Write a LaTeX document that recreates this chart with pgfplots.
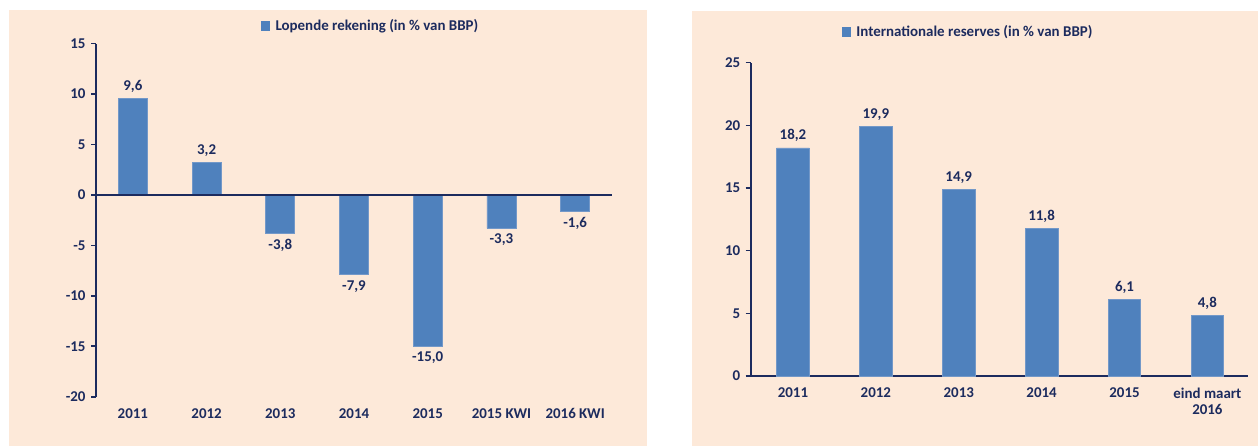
\documentclass[border=0pt]{standalone}
\usepackage{fontspec}
\setmainfont{Carlito}
\usepackage{pgfplots}
\pgfplotsset{compat=1.18}
\definecolor{peach}{HTML}{FDE9D9}
\definecolor{navy}{RGB}{28,43,94}
\definecolor{barblue}{HTML}{4F81BD}
\definecolor{baredge}{RGB}{115,152,200}

\pgfplotsset{
  panel/.style={
    scale only axis,
    axis lines*=left,
    axis line style={navy, line width=2bp},
    xtick=data,
    xtick style={draw=none},
    ytick style={navy, line width=1.6bp},
    tick align=outside,
    major tick length=5bp,
    ticklabel style={font=\fontsize{15}{17}\selectfont\bfseries, text=navy},
    xticklabel style={align=center, yshift=-3bp},
    yticklabel style={xshift=-2bp},
    /pgf/number format/assume math mode=true,
    ybar,
    nodes near coords={\pgfmathprintnumber[use comma,fixed,fixed zerofill,precision=1,assume math mode=true]{\pgfplotspointmeta}},
    nodes near coords align=vertical,
    every node near coord/.append style={font=\fontsize{15}{17}\selectfont\bfseries, text=navy, inner sep=5.5bp},
    legend style={draw=none, fill=none, font=\fontsize{15}{17}\selectfont\bfseries, text=navy, anchor=center},
    clip=false,
  },
  barstyle/.style={fill=barblue, draw=baredge, line width=0.8bp,
    legend image code/.code={\fill[barblue] (0bp,-4bp) rectangle (8.5bp,4.5bp); \path (12bp,0bp);}},
}

\begin{document}
\begin{tikzpicture}
\path[use as bounding box, fill=white] (0,0) rectangle (1258bp,446bp);
\fill[peach] (9bp,0bp) rectangle (647bp,436bp);
\fill[peach] (692bp,0bp) rectangle (1258bp,435bp);

% Left panel
\begin{axis}[panel,
  at={(96bp,49.3bp)}, anchor=south west,
  width=516bp, height=353bp,
  xmin=-0.5, xmax=6.5,
  ymin=-20, ymax=15,
  ytick={-20,-15,-10,-5,0,5,10,15},
  x axis line style={draw=none},
  bar width=29bp,
  xticklabels={2011,2012,2013,2014,2015,2015 KWI,2016 KWI},
  legend style={at={(0.532,1)}, yshift=17.7bp},
]
\addplot[barstyle] coordinates {(0,9.6) (1,3.2) (2,-3.8) (3,-7.9) (4,-15.0) (5,-3.3) (6,-1.6)};
\addlegendentry{Lopende rekening (in \% van BBP)}
\draw[navy, line width=2bp] (axis cs:-0.5,0) -- (axis cs:6.5,0);
\end{axis}

% Right panel
\begin{axis}[panel,
  at={(750.7bp,70bp)}, anchor=south west,
  width=497.3bp, height=313.3bp,
  xmin=-0.51, xmax=5.49,
  ymin=0, ymax=25,
  ytick={0,5,10,15,20,25},
  bar width=32.7bp,
  xticklabels={2011,2012,2013,2014,2015,eind maart\\2016},
  legend style={at={(0.437,1)}, yshift=30.7bp},
]
\addplot[barstyle] coordinates {(0,18.2) (1,19.9) (2,14.9) (3,11.8) (4,6.1) (5,4.8)};
\addlegendentry{Internationale reserves (in \% van BBP)}
\end{axis}
\end{tikzpicture}
\end{document}
